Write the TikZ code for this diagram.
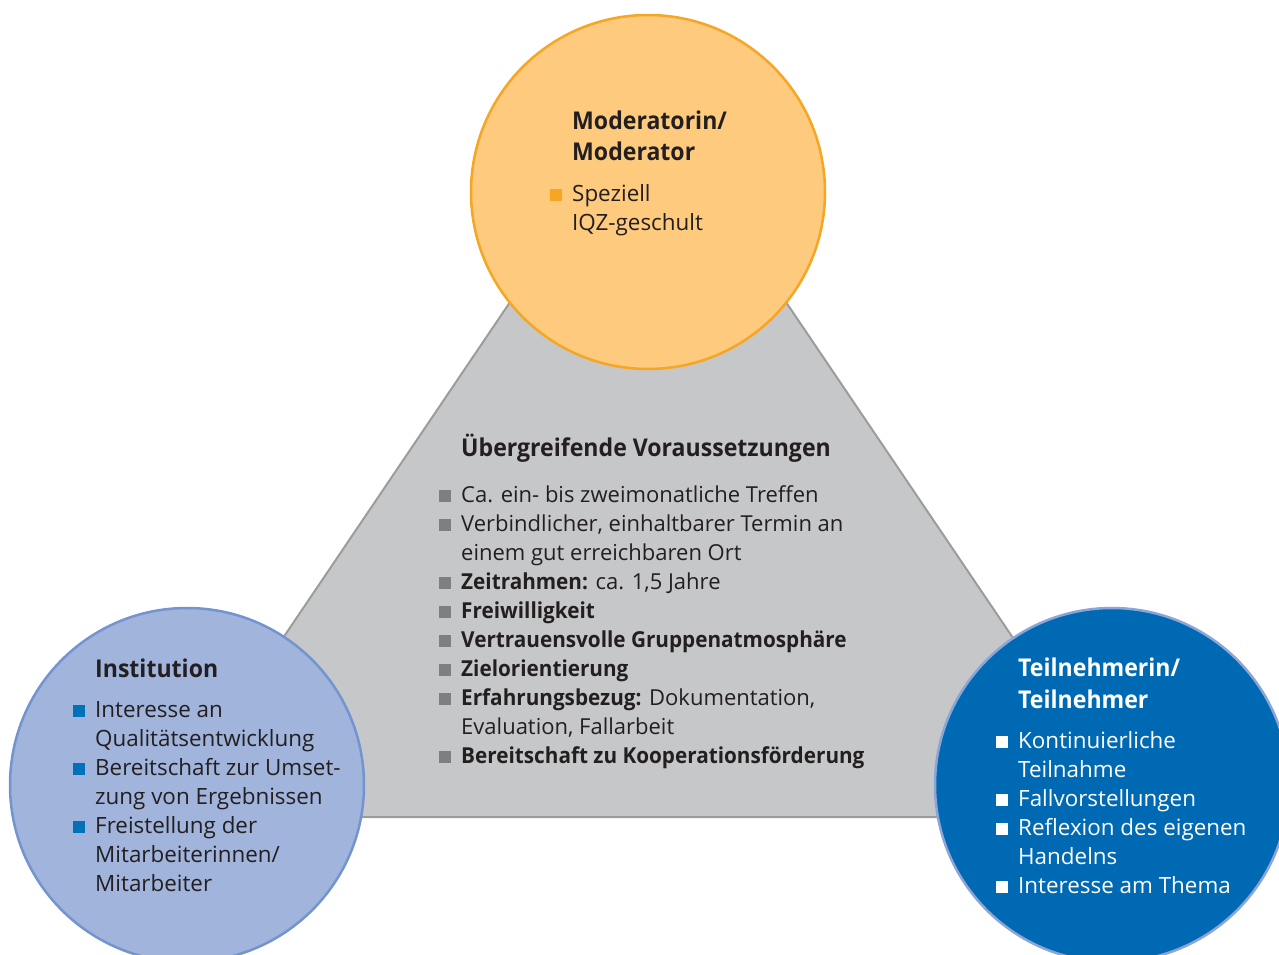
\documentclass[tikz,border=0pt]{standalone}
\usepackage{fontspec}
\setmainfont{Open Sans}[BoldFeatures={FakeStretch=0.942}]
\usepackage{xcolor}
\definecolor{triFill}{HTML}{C6C7C9}
\definecolor{triLine}{HTML}{9C9C9C}
\definecolor{orFill}{HTML}{FDCA7E}
\definecolor{orLine}{HTML}{F6A623}
\definecolor{ltFill}{HTML}{A0B4DC}
\definecolor{ltLine}{HTML}{7494CF}
\definecolor{dkFill}{HTML}{0069B4}
\definecolor{dkLine}{HTML}{8BA6D6}
\definecolor{txt}{HTML}{231F20}
\definecolor{bOr}{HTML}{F6A623}
\definecolor{bBl}{HTML}{0070B8}
\definecolor{bGr}{HTML}{7F7F7F}
\newcommand{\bq}[1]{\leavevmode\llap{\textcolor{#1}{\rule{12pt}{12pt}}\hspace{10pt}}}
\newcommand{\bodyfont}{\fontsize{22}{29}\selectfont}
\newcommand{\circfont}{\fontsize{22.4}{29}\selectfont}
\newcommand{\headfont}{\fontsize{24.5}{32}\selectfont\bfseries}
\begin{document}
\begin{tikzpicture}[x=1pt,y=-1pt,
  ring/.style={circle,minimum size=354pt,inner sep=0pt,line width=2.5pt},
  txtblock/.style={anchor=base west,inner sep=0pt,text=txt}]
\useasboundingbox (0,0) rectangle (1279,955);
\clip (0,0) rectangle (1279,955);
\fill[white] (0,0) rectangle (1279,955);
% triangle
\coordinate (apex) at (648,98);
\coordinate (bl) at (162,817);
\coordinate (br) at (1134,817);
\draw[fill=triFill,draw=triLine,line width=2pt,line join=miter] (apex) -- (br) -- (bl) -- cycle;
% circles
\node[ring,fill=orFill,draw=orLine] (mod) at (648,192) {};
\node[ring,fill=ltFill,draw=ltLine] (inst) at (187,785) {};
\node[ring,fill=dkFill,draw=dkLine] (teil) at (1112,785) {};
% top texts
\node[txtblock] (modh) at (572,129) {\parbox[t]{240pt}{\headfont\raggedright Moderatorin/\\Moderator}};
\node[txtblock] (modb) at (572,201) {\parbox[t]{240pt}{\circfont\raggedright
\bq{bOr}Speziell\\IQZ-geschult}};
% left texts
\node[txtblock] (insth) at (95,677) {\parbox[t]{260pt}{\headfont\raggedright Institution}};
\node[txtblock] (instb) at (95,717) {\parbox[t]{260pt}{\circfont\raggedright
\bq{bBl}Interesse an\\
Qualitätsentwicklung\\
\bq{bBl}Bereitschaft zur Umset-\\
zung von Ergebnissen\\
\bq{bBl}Freistellung der\\
Mitarbeiterinnen/\\
Mitarbeiter}};
% right texts
\node[txtblock,text=white] (teilh) at (1018,676) {\parbox[t]{260pt}{\headfont\raggedright Teilnehmerin/\\Teilnehmer}};
\node[txtblock,text=white] (teilb) at (1018,748) {\parbox[t]{260pt}{\circfont\raggedright
\bq{white}Kontinuierliche\\
Teilnahme\\
\bq{white}Fallvorstellungen\\
\bq{white}Reflexion des eigenen\\
Handelns\\
\bq{white}Interesse am Thema}};
% center texts
\node[txtblock] (cenh) at (461,456) {\parbox[t]{460pt}{\fontsize{24.5}{29}\selectfont\bfseries\raggedright Übergreifende Voraussetzungen}};
\node[txtblock] (cenb) at (461,502) {\parbox[t]{460pt}{\bodyfont\raggedright
\bq{bGr}Ca. ein- bis zweimonatliche Treffen\\
\bq{bGr}Verbindlicher, einhaltbarer Termin an\\
einem gut erreichbaren Ort\\
\bq{bGr}\textbf{Zeitrahmen:} ca. 1,5 Jahre\\
\bq{bGr}\textbf{Freiwilligkeit}\\
\bq{bGr}\textbf{Vertrauensvolle Gruppenatmosphäre}\\
\bq{bGr}\textbf{Zielorientierung}\\
\bq{bGr}\textbf{Erfahrungsbezug:} Dokumentation,\\
Evaluation, Fallarbeit\\
\bq{bGr}\textbf{Bereitschaft zu Kooperationsförderung}}};
\end{tikzpicture}
\end{document}
